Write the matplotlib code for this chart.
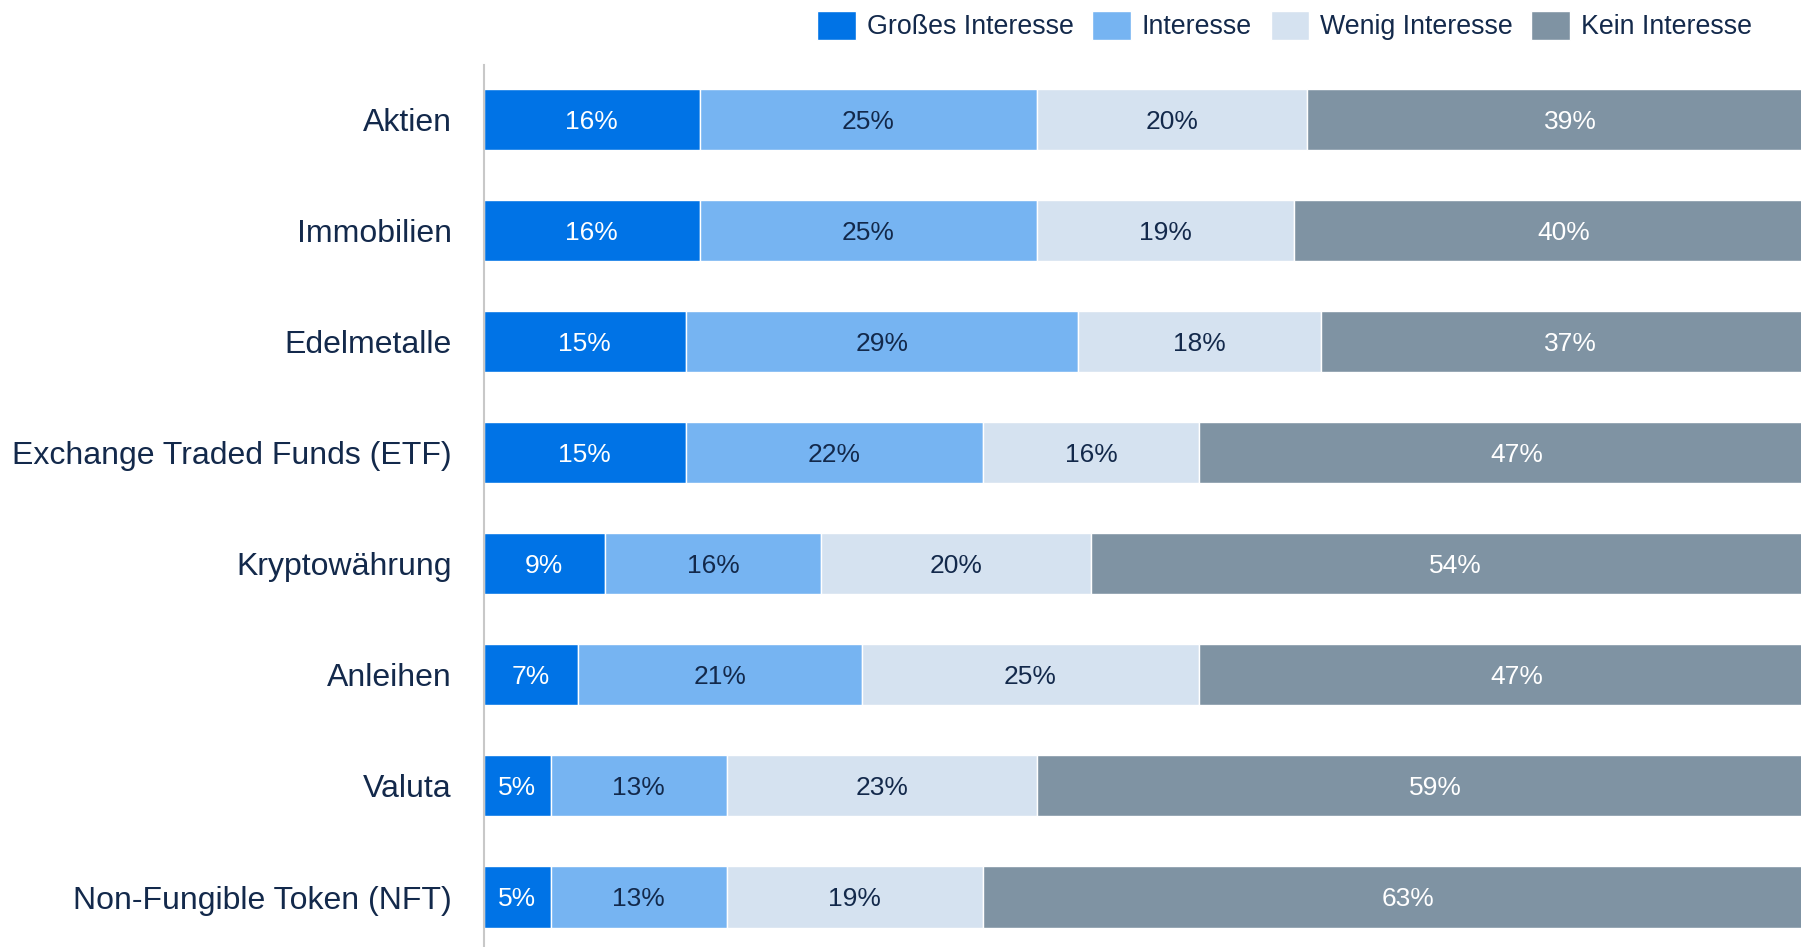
import numpy as np
import matplotlib
matplotlib.use('Agg')
import matplotlib.pyplot as plt

plt.rcParams['font.family'] = ['Liberation Sans', 'DejaVu Sans']

# Data
categories = ['Aktien', 'Immobilien', 'Edelmetalle', 'Exchange Traded Funds (ETF)',
              'Kryptowährung', 'Anleihen', 'Valuta', 'Non-Fungible Token (NFT)']
series_names = ['Großes Interesse', 'Interesse', 'Wenig Interesse', 'Kein Interesse']
grosses = [16, 16, 15, 15, 9, 7, 5, 5]
interesse = [25, 25, 29, 22, 16, 21, 13, 13]
wenig = [20, 19, 18, 16, 20, 25, 23, 19]
kein = [39, 40, 37, 47, 54, 47, 59, 63]

colors = ['#0073E6', '#76B4F2', '#D5E2F0', '#7F93A3']
text_colors = ['white', '#13294B', '#13294B', 'white']
navy = '#13294B'

fig = plt.figure(figsize=(18.01, 9.47), dpi=100)
ax = fig.add_axes([0.2685, 0.0, 0.7496, 0.9314])

y = np.arange(len(categories))
left = np.zeros(len(categories))
for name, vals, col, tcol in zip(series_names, [grosses, interesse, wenig, kein], colors, text_colors):
    vals = np.array(vals, dtype=float)
    ax.barh(y, vals, left=left, height=0.55, color=col, edgecolor='white',
            linewidth=1, label=name)
    for yi, l, v in zip(y, left, vals):
        ax.text(l + v / 2, yi + 0.02, f'{int(v)}%', ha='center', va='center',
                fontsize=19, color=tcol)
    left += vals

ax.set_xlim(0, 100)
ax.set_ylim(7.45, -0.49)
ax.set_yticks(y)
ax.set_yticklabels(categories, fontsize=23, color=navy)
ax.tick_params(axis='y', length=0, pad=23)
ax.set_xticks([])
for s in ['top', 'right', 'bottom']:
    ax.spines[s].set_visible(False)
ax.spines['left'].set_color('#C8C8C8')
ax.spines['left'].set_linewidth(1.5)

handles, labels = ax.get_legend_handles_labels()
leg = fig.legend(handles, labels, loc='upper right', bbox_to_anchor=(0.986, 1.014),
                 ncol=4, frameon=False, fontsize=19.3, handlelength=1.44, handleheight=1.3,
                 handletextpad=0.4, columnspacing=0.7)
for t in leg.get_texts():
    t.set_color(navy)

fig.savefig('out.png', dpi=100)
